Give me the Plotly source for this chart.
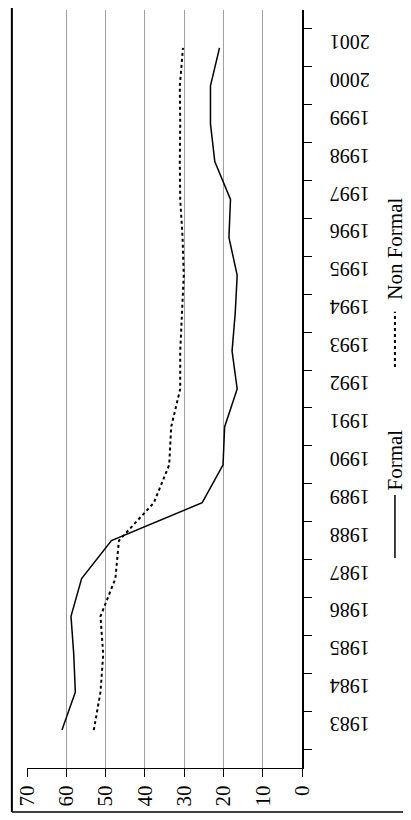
import plotly.graph_objects as go

years = [str(y) for y in range(1983, 2002)]
formal = [61.1, 57.7, 58.1, 58.8, 56.1, 48.5, 25.4, 20.1, 19.7, 16.5, 17.8, 17.0, 16.5, 18.6, 18.2, 22.2, 23.3, 23.3, 21.0]
non_formal = [53.0, 51.3, 50.6, 51.3, 47.5, 46.6, 37.7, 33.8, 33.3, 31.0, 31.0, 30.5, 30.1, 30.4, 31.0, 31.1, 31.0, 31.1, 30.3]
value_ticks = [0, 10, 20, 30, 40, 50, 60, 70]

FONT = "Liberation Serif"
fig = go.Figure()
fig.add_trace(go.Scatter(x=formal, y=years, mode="lines", line=dict(color="black", width=1.5), name="Formal"))
fig.add_trace(go.Scatter(x=non_formal, y=years, mode="lines", line=dict(color="black", width=2, dash="dot"), name="Non Formal"))

fig.update_layout(
    width=411, height=820, showlegend=False,
    margin=dict(l=19, r=117, t=2, b=60, autoexpand=False),
    paper_bgcolor="white", plot_bgcolor="white",
    font=dict(family=FONT, size=20, color="black"),
    xaxis=dict(range=[70, 0], tickvals=value_ticks, tickangle=-90, showgrid=True, gridcolor="#a0a0a0", gridwidth=1,
               ticks="outside", ticklen=8, tickcolor="black", showline=True, linecolor="black", linewidth=1,
               zeroline=False, automargin=False, tickfont=dict(size=21, family=FONT)),
    yaxis=dict(type="category", categoryorder="array", categoryarray=years, side="right", tickangle=180,
               ticks="outside", ticklen=8, tickcolor="black", tickson="boundaries", showgrid=False,
               showline=True, linecolor="black", linewidth=1.5, automargin=False, ticklabelstandoff=62,
               tickfont=dict(size=20, family=FONT)),
    shapes=[
        dict(type="line", xref="paper", yref="paper", x0=-0.055, x1=-0.055, y0=-0.058, y1=1.03, line=dict(color="black", width=2)),
        dict(type="line", xref="paper", yref="paper", x0=-0.055, x1=1.385, y0=-0.058, y1=-0.058, line=dict(color="black", width=1.5)),
        dict(type="line", xref="paper", yref="paper", x0=1.338, x1=1.338, y0=0.277, y1=0.360, line=dict(color="black", width=1.5)),
        dict(type="line", xref="paper", yref="paper", x0=1.338, x1=1.338, y0=0.529, y1=0.602, line=dict(color="black", width=2, dash="dot")),
    ],
    annotations=[
        dict(text="Formal", xref="paper", yref="paper", x=1.338, y=0.364, textangle=-90, showarrow=False,
             xanchor="center", yanchor="bottom", font=dict(size=21, family=FONT)),
        dict(text="Non Formal", xref="paper", yref="paper", x=1.338, y=0.615, textangle=-90, showarrow=False,
             xanchor="center", yanchor="bottom", font=dict(size=21, family=FONT)),
    ],
)
fig.write_html("out.html")
